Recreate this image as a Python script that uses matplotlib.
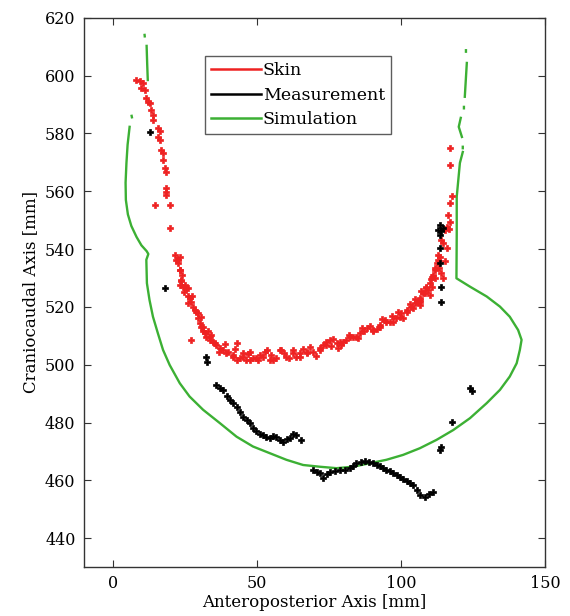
import numpy as np
import matplotlib
matplotlib.use("Agg")
import matplotlib.pyplot as plt
from matplotlib.lines import Line2D

# ---- Skin (red) points ----
skin_x = [8.2, 9.4, 10.5, 10.0, 11.1, 11.7, 12.3, 12.8, 13.4, 14.0, 14.0, 15.7, 16.3, 15.7, 16.3,
          16.9, 17.5, 17.5, 18.1, 18.6, 18.6, 18.6, 18.6, 14.6, 19.8, 19.8, 23.3, 22.1, 22.7, 23.3,
          23.9, 23.3, 24.4, 25.6, 26.1, 26.7, 27.3, 27.9, 29.6, 30.8, 31.4, 31.9, 27.3, 33.7, 34.8,
          36.0, 37.2, 38.3, 40.0, 41.8, 43.0, 44.1, 45.2, 46.4, 47.6, 48.7, 50.5, 52.8, 54.5, 56.8,
          58.6, 60.3, 62.6, 64.9, 67.3, 69.5, 71.9, 74.2, 75.9, 77.7, 80.0, 82.3, 84.6, 85.8, 88.1,
          90.4, 92.7, 94.4, 96.2, 98.5, 100.2, 102.0, 103.7, 105.5, 106.6, 104.9, 106.6, 106.6, 108.3,
          110.1, 108.9, 110.7, 110.7, 114.7, 111.8, 114.1, 112.4, 113.0, 115.9, 114.7, 114.1, 115.9,
          117.0, 116.4, 117.0, 117.6, 117.0, 117.0,
          22.7, 23.3, 23.9, 25.0, 26.1, 27.4, 29.1, 29.6, 30.8, 31.4, 32.5, 33.7, 35.4, 36.8, 39.5,
          41.8, 43.0, 45.2, 47.6, 49.9, 52.2, 53.4, 55.7, 58.0, 61.1, 62.6, 64.9, 67.3, 70.5, 71.9,
          74.2, 75.3, 78.1, 78.8, 81.1, 83.4, 85.1, 87.2, 90.4, 92.7, 95.0, 97.3, 99.7, 102.0, 104.3,
          106.6, 107.7, 108.9, 110.1, 111.2, 111.8, 112.8, 113.5,
          38.9, 42.5, 46.9, 51.1, 55.1, 59.4, 63.6, 66.2, 68.6, 72.9, 76.5, 79.4, 81.9, 86.6, 89.3,
          91.6, 93.6, 96.9, 99.1, 100.9, 103.2, 105.0, 107.0, 109.5, 110.4, 112.0, 113.2, 115.2,
          115.2, 116.8, 33.0, 34.2, 30.3, 28.6, 26.0, 24.8, 24.0, 21.5]
skin_y = [598.5, 598.0, 597.4, 595.7, 595.1, 592.2, 591.0, 590.5, 588.2, 586.4, 584.7, 581.8, 580.7,
          578.9, 577.8, 574.3, 573.2, 570.9, 568.0, 566.8, 561.1, 559.9, 558.8, 555.3, 555.3, 547.2,
          537.4, 536.3, 535.1, 532.6, 529.3, 527.6, 527.0, 526.5, 523.6, 523.0, 521.8, 520.1, 517.8,
          516.6, 513.2, 510.9, 508.6, 509.7, 508.0, 506.9, 505.7, 505.1, 504.5, 503.4, 507.4, 502.2,
          504.0, 501.7, 504.5, 502.2, 501.7, 504.5, 501.7, 502.2, 505.1, 502.8, 504.0, 504.0, 504.5,
          504.5, 505.7, 508.0, 506.3, 507.4, 508.0, 509.7, 509.7, 510.9, 512.6, 512.0, 513.8, 515.5,
          514.9, 516.1, 517.8, 519.0, 520.1, 521.8, 523.0, 521.3, 522.4, 520.7, 524.7, 524.2, 527.0,
          527.0, 530.5, 529.9, 532.8, 531.7, 535.1, 538.0, 540.3, 542.0, 543.2, 547.8, 549.5, 551.8,
          555.9, 558.2, 569.1, 574.9,
          536.3, 532.8, 528.8, 527.6, 526.5, 523.8, 518.4, 516.1, 513.2, 511.5, 509.7, 508.6, 507.4,
          504.4, 504.0, 502.8, 501.7, 502.8, 501.7, 502.2, 502.8, 505.1, 501.7, 505.1, 502.2, 505.1,
          502.8, 504.0, 503.0, 505.1, 506.9, 508.6, 505.8, 508.0, 508.6, 509.7, 509.3, 511.7, 511.5,
          513.2, 514.9, 514.9, 516.6, 518.4, 519.5, 521.8, 524.7, 526.5, 528.2, 531.1, 533.4, 536.3,
          537.4,
          507.2, 505.5, 503.8, 503.3, 503.5, 503.9, 502.6, 505.6, 506.0, 506.7, 509.0, 506.9, 510.4,
          512.7, 513.3, 512.5, 515.8, 516.8, 518.2, 516.0, 520.9, 522.9, 525.5, 526.0, 529.5, 530.0,
          533.5, 536.0, 546.5, 547.0, 511.8, 510.2, 514.6, 519.0, 521.5, 525.3, 531.0, 538.0]

# ---- Measurement (black) points ----
meas_x = [12.8, 18.1, 32.3, 32.7,
          36.0, 37.2, 38.3, 39.6, 40.6, 41.7, 43.0, 44.1, 45.2, 46.5, 47.6, 48.6, 49.9, 51.0, 52.2,
          53.1, 54.5, 55.6, 56.8, 58.0, 59.1, 60.4, 61.5, 62.5, 63.8, 65.5,
          69.5, 70.8, 71.9, 73.0, 74.3, 75.3, 77.1, 78.8, 80.6, 82.3, 83.3, 84.6, 86.1, 87.5, 88.9,
          90.4, 91.7, 92.7, 93.8, 95.0, 96.2, 97.3, 98.6, 99.7, 100.7, 102.0, 103.1, 104.3, 105.6,
          106.6, 108.3, 109.7, 111.2,
          112.9, 114.1, 113.5, 114.6, 113.5, 113.5, 113.5, 114.1, 114.1,
          124.0, 124.7, 117.6, 114.1, 113.5]
meas_y = [580.6, 526.5, 502.8, 501.1,
          493.0, 492.0, 491.3, 489.2, 487.8, 486.8, 485.5, 483.7, 482.0, 480.9, 479.8, 478.1, 476.9,
          476.1, 475.7, 475.0, 474.6, 475.4, 475.1, 474.0, 473.4, 474.3, 474.6, 476.1, 475.7, 474.0,
          463.6, 462.9, 462.5, 460.7, 462.2, 463.0, 463.3, 463.6, 463.6, 464.2, 465.0, 465.9, 466.4,
          466.8, 466.4, 465.9, 465.3, 464.8, 464.3, 463.6, 463.3, 462.5, 461.9, 461.3, 460.5, 459.6,
          459.1, 458.4, 456.7, 455.0, 454.4, 455.3, 456.1,
          546.6, 546.1, 548.4, 547.3, 544.9, 540.3, 535.1, 527.0, 521.8,
          491.9, 490.9, 480.3, 471.7, 470.5]

# ---- Simulation (green) contour, NaN marks gaps ----
nan = np.nan
sim_x = [11.1, 11.15, nan,
         11.8, 12.0, 12.2, nan,
         6.6, 6.7, nan,
         5.9, 5.2, 4.8, 4.5, 4.6, 5.3, 6.5, 8.3, 10.0, 11.8, 12.4,
         11.7, 11.9, 12.8, 14.0, 15.7, 17.5, 19.8, 23.3, 26.7, 31.4, 37.2, 43.0, 48.7, 54.5, 60.3,
         66.1, 71.9, 77.7, 83.4, 89.2, 95.0, 100.8, 106.6, 112.4, 118.2, 124.0, 129.8, 134.4, 137.8,
         140.2, 141.3, 141.9, 140.7, 137.8, 134.4, 129.8, 124.0, 119.3,
         119.4, 119.4, 120.5, 121.5, nan,
         121.5, 121.5, nan,
         121.2, 120.1, 120.8, nan,
         121.9, 121.9, nan,
         122.2, 122.9, nan,
         122.6, 122.6]
sim_y = [614.1, 613.6, nan,
         610.3, 604.0, 598.5, nan,
         586.1, 585.6, nan,
         582.3, 576.1, 569.8, 563.0, 557.0, 552.0, 548.0, 544.2, 541.3, 539.3, 538.3,
         536.3, 528.2, 522.4, 516.6, 510.9, 505.1, 499.9, 493.6, 489.0, 484.4, 479.8, 475.1, 471.7,
         469.4, 467.1, 465.3, 464.7, 464.2, 464.7, 465.9, 467.1, 468.8, 471.1, 474.0, 477.4, 481.5,
         486.7, 491.3, 495.9, 500.5, 505.1, 508.6, 512.0, 516.6, 520.1, 523.6, 527.0, 529.9,
         545.0, 558.1, 569.8, 573.6, nan,
         575.4, 574.9, nan,
         578.8, 582.3, 585.4, nan,
         589.2, 588.7, nan,
         592.7, 604.4, nan,
         608.8, 608.3]

series_labels = ["Skin", "Measurement", "Simulation"]
x_ticks = [0, 50, 100, 150]
y_ticks = [440, 460, 480, 500, 520, 540, 560, 580, 600, 620]

plt.rcParams['font.family'] = ['DejaVu Serif']
fig = plt.figure(figsize=(5.7, 6.16), dpi=100)
ax = fig.add_axes([0.147, 0.0795, 0.809, 0.8915])

ax.plot(sim_x, sim_y, color='#3cb034', lw=1.7, zorder=2)
ax.plot(skin_x, skin_y, linestyle='none', marker='P', ms=4.8, color='#ee2222',
        mec='#ee2222', mew=0.5, zorder=3)
ax.plot(meas_x, meas_y, linestyle='none', marker='P', ms=4.8, color='black',
        mec='black', mew=0.5, zorder=4)

ax.set_xlim(-10, 150)
ax.set_ylim(430, 620)
ax.set_xticks(x_ticks)
ax.set_yticks(y_ticks)
ax.tick_params(direction='in', length=5, top=True, right=True, labelsize=11.5,
               color='#333333', pad=6)
for s in ax.spines.values():
    s.set_color('#333333')
    s.set_linewidth(1.0)

ax.set_xlabel("Anteroposterior Axis [mm]", fontsize=12, labelpad=1)
ax.set_ylabel("Craniocaudal Axis [mm]", fontsize=12, labelpad=4)

handles = [Line2D([], [], color='#ee2222', lw=1.8),
           Line2D([], [], color='black', lw=1.8),
           Line2D([], [], color='#3cb034', lw=1.8)]
leg = ax.legend(handles, series_labels, loc='upper left', bbox_to_anchor=(0.262, 0.93),
                fontsize=12.5, frameon=True, fancybox=False, handlelength=2.9,
                handletextpad=0.1, borderpad=0.35, labelspacing=0.42, borderaxespad=0)
leg.get_frame().set_edgecolor('#333333')
leg.get_frame().set_linewidth(1.0)

fig.savefig("out.png", dpi=100)
